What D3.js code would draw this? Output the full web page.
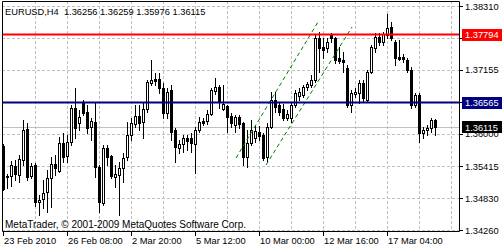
<!DOCTYPE html>
<html>
<head>
<meta charset="utf-8">
<script src="https://cdn.jsdelivr.net/npm/d3@7"></script>
<style>
  html, body { margin: 0; padding: 0; background: #fff; }
  svg { display: block; font-family: "Liberation Sans", Arial, sans-serif; }
</style>
</head>
<body>
<svg id="chart" width="502" height="250"></svg>
<script>
// EURUSD H4 bars
const opens = [
  1.35779,1.35236,1.35236,1.35417,1.35255,1.35526,1.36086,1.35236,1.35435,1.34766,
  1.34821,1.34947,1.35200,1.35453,1.35327,1.35833,1.35598,1.35851,1.36466,1.36195,
  1.36556,1.36394,1.36122,1.36213,1.35399,1.34748,1.35743,1.35598,1.35218,1.35255,
  1.35381,1.35580,1.35978,1.36177,1.36321,1.36213,1.36448,1.36918,1.36990,1.36990,
  1.36827,1.36375,1.36791,1.36068,1.35743,1.35815,1.35924,1.35924,1.35815,1.36068,
  1.36231,1.36231,1.36357,1.36773,1.36846,1.36448,1.36502,1.36321,1.36159,1.36303,
  1.36195,1.35580,1.35833,1.35924,1.36032,1.35978,1.35580,1.36122,1.36611,1.36520,
  1.36448,1.36285,1.36285,1.36520,1.36683,1.36701,1.36846,1.36882,1.36972,1.37731,
  1.37569,1.37551,1.37786,1.37731,1.37370,1.37334,1.37189,1.36520,1.36719,1.36737,
  1.36918,1.36611,1.37117,1.37551,1.37750,1.37659,1.37786,1.37930,1.37659,1.37388,
  1.37388,1.37334,1.37153,1.36520,1.36701,1.36014,1.36068,1.36104,1.36256
];
const highs = [
  1.35815,1.35273,1.35508,1.35526,1.35616,1.36249,1.36195,1.35471,1.35471,1.34893,
  1.35164,1.35345,1.35580,1.35616,1.35942,1.36014,1.35978,1.36520,1.36827,1.36430,
  1.36611,1.36520,1.36285,1.36556,1.35435,1.35797,1.35797,1.35616,1.35435,1.35490,
  1.35652,1.36213,1.36285,1.36520,1.36520,1.36556,1.36972,1.37334,1.37099,1.37099,
  1.36918,1.36827,1.36882,1.36104,1.35887,1.35978,1.35978,1.36014,1.36122,1.36303,
  1.36285,1.36430,1.36827,1.37008,1.36882,1.36882,1.36520,1.36375,1.36339,1.36339,
  1.36213,1.36068,1.36249,1.36159,1.36140,1.36014,1.36195,1.36755,1.36755,1.36556,
  1.36538,1.36430,1.36556,1.36791,1.36827,1.36882,1.36936,1.37063,1.37786,1.37840,
  1.37731,1.37731,1.37822,1.37750,1.37569,1.37478,1.37243,1.36791,1.36827,1.36972,
  1.36972,1.37153,1.37605,1.37822,1.37822,1.37840,1.38165,1.38021,1.37695,1.37695,
  1.37442,1.37370,1.37207,1.36737,1.36737,1.36122,1.36159,1.36285,1.36259
];
const lows = [
  1.34983,1.35019,1.35056,1.35164,1.35128,1.35435,1.35164,1.35200,1.34694,1.34531,
  1.34658,1.34586,1.34676,1.35255,1.35309,1.35490,1.35490,1.35797,1.35924,1.36068,
  1.36339,1.36014,1.35887,1.35218,1.34586,1.34712,1.35435,1.35200,1.35038,1.34531,
  1.35128,1.35526,1.35887,1.36122,1.36068,1.35924,1.36394,1.36882,1.36882,1.36737,
  1.36285,1.36285,1.35887,1.35490,1.35652,1.35670,1.35707,1.35670,1.35291,1.36032,
  1.36159,1.36177,1.36339,1.36719,1.36466,1.36430,1.36032,1.36122,1.36032,1.36104,
  1.35435,1.35399,1.35797,1.35851,1.35887,1.35526,1.35490,1.36104,1.36394,1.36339,
  1.36249,1.36249,1.36213,1.36484,1.36611,1.36665,1.36791,1.36846,1.36936,1.37117,
  1.37370,1.37478,1.37659,1.37279,1.37279,1.37117,1.36484,1.36394,1.36665,1.36556,
  1.36574,1.36574,1.37099,1.37478,1.37605,1.37605,1.37731,1.37695,1.37243,1.37334,
  1.37298,1.37117,1.36466,1.36484,1.35851,1.35924,1.35978,1.36032,1.35976
];
const closes = [
  1.35001,1.35218,1.35435,1.35273,1.35544,1.36068,1.35218,1.35417,1.34766,1.34803,
  1.34929,1.35200,1.35453,1.35381,1.35833,1.35580,1.35851,1.36466,1.36104,1.36303,
  1.36375,1.36104,1.36231,1.35399,1.34766,1.35743,1.35580,1.35236,1.35273,1.35381,
  1.35562,1.35978,1.36195,1.36321,1.36195,1.36448,1.36936,1.36972,1.36954,1.36827,
  1.36375,1.36755,1.36032,1.35761,1.35815,1.35924,1.35869,1.35833,1.36068,1.36213,
  1.36195,1.36357,1.36791,1.36846,1.36574,1.36538,1.36303,1.36195,1.36303,1.36177,
  1.35580,1.35833,1.36068,1.36050,1.35960,1.35562,1.36122,1.36611,1.36484,1.36394,
  1.36285,1.36357,1.36520,1.36737,1.36755,1.36846,1.36900,1.36972,1.37731,1.37551,
  1.37514,1.37659,1.37731,1.37334,1.37316,1.37298,1.36520,1.36737,1.36755,1.36918,
  1.36647,1.37117,1.37569,1.37750,1.37659,1.37804,1.37912,1.37731,1.37370,1.37352,
  1.37352,1.37153,1.36520,1.36701,1.36014,1.36068,1.36104,1.36249,1.36115
];

const timeLabels = ["23 Feb 2010", "26 Feb 08:00", "2 Mar 20:00", "5 Mar 12:00",
                    "10 Mar 00:00", "12 Mar 16:00", "17 Mar 04:00"];
const timeLabelBars = [0, 16, 32, 48, 64, 80, 96];
const priceTicks = [1.38310, 1.37725, 1.37155, 1.36580, 1.36000, 1.35415, 1.34830, 1.34260];

const redLevel = 1.37794;
const blueLevel = 1.36565;

// trend channel (bar index, price)
const channelUpper = [[58.25, 1.35562], [78.75, 1.38021]];
const channelLower = [[65.75, 1.35435], [87.25, 1.37930]];

const symbolTitle = "EURUSD,H4";

const W = 502, H = 250;
const plotLeft = 2, plotTop = 1, plotRight = 459, plotBottom = 231;

const svg = d3.select('#chart');

const x = d3.scaleLinear().domain([0, opens.length - 1]).range([3, 435]);
const y = d3.scaleLinear().domain([1.34260, 1.38310]).range([230, 6]);
const px = v => Math.round(v) + 0.5;

svg.append('rect').attr('width', W).attr('height', H).attr('fill', '#fff');

// grid
const grid = svg.append('g')
  .attr('stroke', '#c0c0c0')
  .attr('stroke-width', 1)
  .attr('stroke-dasharray', '3,2');

grid.selectAll('.hg')
  .data(priceTicks)
  .enter()
  .append('line')
  .attr('x1', plotLeft).attr('x2', plotRight)
  .attr('y1', d => px(y(d))).attr('y2', d => px(y(d)));

grid.selectAll('.vg')
  .data(d3.range(8, 113, 8))
  .enter()
  .append('line')
  .attr('x1', d => px(x(d))).attr('x2', d => px(x(d)))
  .attr('y1', plotTop).attr('y2', plotBottom);

// watermark
svg.append('text')
  .attr('x', 5)
  .attr('y', 228)
  .text('MetaTrader, \u00A9 2001-2009 MetaQuotes Software Corp.')
  .style('font-size', '10px')
  .style('fill', '#000');

// bid line
const lastClose = closes[closes.length - 1];
svg.append('line')
  .attr('x1', plotLeft).attr('x2', plotRight)
  .attr('y1', px(y(lastClose)))
  .attr('y2', px(y(lastClose)))
  .attr('stroke', '#c0c0c0');

// candles
const bars = d3.range(opens.length);
const candles = svg.append('g');

candles.selectAll('.wick')
  .data(bars)
  .enter()
  .append('line')
  .attr('x1', i => px(x(i))).attr('x2', i => px(x(i)))
  .attr('y1', i => Math.round(y(highs[i])))
  .attr('y2', i => Math.round(y(lows[i])) + 1)
  .attr('stroke', '#000');

candles.selectAll('.body')
  .data(bars)
  .enter()
  .append('rect')
  .attr('x', i => Math.round(x(i)) - 0.5)
  .attr('y', i => Math.round(y(Math.max(opens[i], closes[i]))) + 0.5)
  .attr('width', 2)
  .attr('height', i => Math.max(1, Math.round(y(Math.min(opens[i], closes[i]))) - Math.round(y(Math.max(opens[i], closes[i])))))
  .attr('fill', i => closes[i] >= opens[i] ? '#fff' : '#000')
  .attr('stroke', '#000')
  .attr('stroke-width', 1);

// channel
const chLine = d3.line().x(d => x(d[0])).y(d => y(d[1]));
svg.selectAll('.channel')
  .data([channelUpper, channelLower])
  .enter()
  .append('path')
  .attr('d', chLine)
  .attr('fill', 'none')
  .attr('stroke', '#008000')
  .attr('stroke-width', 1)
  .attr('stroke-dasharray', '4,3');

// horizontal levels
svg.append('line')
  .attr('x1', plotLeft).attr('x2', plotRight)
  .attr('y1', y(redLevel)).attr('y2', y(redLevel))
  .attr('stroke', '#ff0000').attr('stroke-width', 2);

svg.append('line')
  .attr('x1', plotLeft).attr('x2', plotRight)
  .attr('y1', y(blueLevel)).attr('y2', y(blueLevel))
  .attr('stroke', '#000080').attr('stroke-width', 2);

// frame
svg.append('path')
  .attr('d', `M${plotLeft + 0.5},${plotBottom + 0.5}V${plotTop + 0.5}H${plotRight + 0.5}V${plotBottom + 0.5}H${plotLeft + 0.5}`)
  .attr('fill', 'none')
  .attr('stroke', '#000');

// price boxes (drawn over the scale)
const boxes = [
  { v: redLevel, fill: '#ff0000' },
  { v: blueLevel, fill: '#000080' },
  { v: lastClose, fill: '#000' }
];

// price axis; labels fully hidden behind a box are left out
svg.selectAll('.ptick')
  .data(priceTicks)
  .enter()
  .append('line')
  .attr('x1', plotRight).attr('x2', plotRight + 4)
  .attr('y1', d => px(y(d))).attr('y2', d => px(y(d)))
  .attr('stroke', '#000');

const visibleTicks = priceTicks.filter(t => !boxes.some(b => Math.abs(y(b.v) - y(t)) < 4));

svg.selectAll('.plabel')
  .data(visibleTicks)
  .enter()
  .append('text')
  .attr('x', 465)
  .attr('y', d => y(d) + 3.5)
  .text(d => d.toFixed(5))
  .style('font-size', '9.3px')
  .style('fill', '#000');

const box = svg.selectAll('.pbox')
  .data(boxes)
  .enter()
  .append('g');

box.append('rect')
  .attr('x', 462)
  .attr('y', d => Math.round(y(d.v)) - 6)
  .attr('width', 40)
  .attr('height', 12)
  .attr('fill', d => d.fill);

box.append('text')
  .attr('x', 465)
  .attr('y', d => y(d.v) + 3.5)
  .text(d => d.v.toFixed(5))
  .style('font-size', '9.3px')
  .style('fill', '#fff');

// time axis
svg.selectAll('.ttick')
  .data(timeLabelBars)
  .enter()
  .append('line')
  .attr('x1', d => px(x(d))).attr('x2', d => px(x(d)))
  .attr('y1', plotBottom).attr('y2', plotBottom + 5)
  .attr('stroke', '#000');

svg.selectAll('.tlabel')
  .data(timeLabels)
  .enter()
  .append('text')
  .attr('x', (d, i) => Math.round(x(timeLabelBars[i])) + 1)
  .attr('y', 244)
  .text(d => d)
  .style('font-size', '9.3px')
  .style('fill', '#000');

// header
const last = opens.length - 1;
svg.append('text')
  .attr('x', 5)
  .attr('y', 15)
  .text(`${symbolTitle}  ${opens[last].toFixed(5)} ${highs[last].toFixed(5)} ${lows[last].toFixed(5)} ${closes[last].toFixed(5)}`)
  .style('white-space', 'pre')
  .style('font-size', '9.3px')
  .style('fill', '#000');
</script>
</body>
</html>
